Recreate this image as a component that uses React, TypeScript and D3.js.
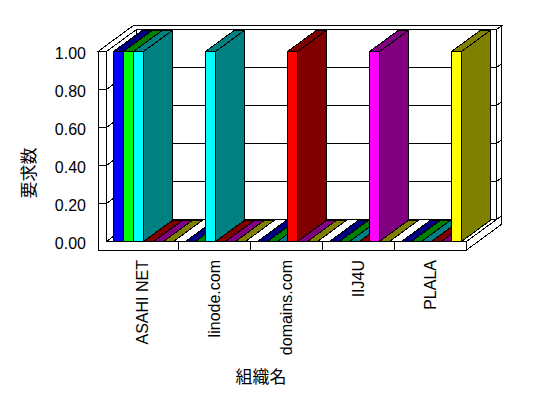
import React from "react";
import * as d3 from "d3";

const categories = ["ASAHI NET", "linode.com", "domains.com", "IIJ4U", "PLALA"];
const series1 = [1, 0, 0, 0, 0];
const series2 = [1, 0, 0, 0, 0];
const series3 = [1, 1, 0, 0, 0];
const series4 = [0, 0, 1, 0, 0];
const series5 = [0, 0, 0, 1, 0];
const series6 = [0, 0, 0, 0, 1];
const seriesKeys = ["s1", "s2", "s3", "s4", "s5", "s6"];
const seriesValues = [series1, series2, series3, series4, series5, series6];
const frontColors = ["#0000FF", "#00FF00", "#00FFFF", "#FF0000", "#FF00FF", "#FFFF00"];
const darkColors = ["#000080", "#008000", "#008080", "#800000", "#800080", "#808000"];
const yTicks = [0, 0.2, 0.4, 0.6, 0.8, 1.0];
const yTitle = "要求数";
const xTitle = "組織名";

const W = 548;
const H = 398;
const X0 = 106.5;
const X1 = 466.5;
const DX = 30;
const DY = -22;
const T = 0.183; // back wall thickness (depth fraction)
const WALL = 8.5; // left wall thickness px
const FLOOR = 8.5; // floor thickness px
const BAR_DEPTH = 0.95;

const pts = (a: number[][]) => a.map((p) => `${p[0]},${p[1]}`).join(" ");

export default function App() {
  const x = d3.scaleBand<string>().domain(categories).range([X0, X1]).padding(0);
  const inner = d3.scaleBand<string>().domain(seriesKeys).range([7, 67]).padding(0);
  const y = d3.scaleLinear().domain([0, 1]).range([241.5, 51.5]);
  const y0 = y(0);
  const y1 = y(1);
  const stroke = "#000";

  // back wall
  const bwL = X0 + DX;
  const bwR = X1 + DX;
  const topOuterY = y1 + DY * (1 + T);
  const leftOuterX = X0 - WALL;

  const bars: JSX.Element[] = [];
  categories.forEach((c, ci) => {
    seriesKeys.forEach((k, si) => {
      const v = seriesValues[si][ci];
      const bx0 = (x(c) as number) + (inner(k) as number);
      const bx1 = bx0 + inner.bandwidth();
      const yv = y(v);
      const bdx = DX * BAR_DEPTH;
      const bdy = DY * BAR_DEPTH;
      const front = [[bx0, y0], [bx1, y0], [bx1, yv], [bx0, yv]];
      const top = [[bx0, yv], [bx1, yv], [bx1 + bdx, yv + bdy], [bx0 + bdx, yv + bdy]];
      const side = [[bx1, y0], [bx1, yv], [bx1 + bdx, yv + bdy], [bx1 + bdx, y0 + bdy]];
      bars.push(
        <g key={`${ci}-${si}`}>
          {v > 0 && <polygon points={pts(side)} fill={darkColors[si]} stroke={stroke} />}
          <polygon points={pts(top)} fill={darkColors[si]} stroke={stroke} />
          {v > 0 && <polygon points={pts(front)} fill={frontColors[si]} stroke={stroke} />}
        </g>
      );
    });
  });

  const font = "'Liberation Sans', Arial, sans-serif";
  const cjk = "'Noto Sans CJK JP', sans-serif";

  return (
    <svg
      width={W}
      height={H}
      style={{ position: "absolute", left: 0, top: 0, background: "#fff" }}
      shapeRendering="crispEdges"
    >
      <rect x={0} y={0} width={W} height={H} fill="#fff" />
      {/* back wall front face */}
      <rect x={bwL} y={y1 + DY} width={bwR - bwL} height={y0 - y1} fill="#fff" stroke={stroke} />
      {yTicks.filter((t) => t > 0 && t < 1).map((t) => (
        <line key={`bg${t}`} x1={bwL} x2={bwR} y1={y(t) + DY} y2={y(t) + DY} stroke={stroke} />
      ))}
      {/* back wall right face */}
      <polygon
        points={pts([
          [bwR, y1 + DY],
          [X1 + DX * (1 + T), topOuterY],
          [X1 + DX * (1 + T), y0 + DY * (1 + T)],
          [bwR, y0 + DY],
        ])}
        fill="#fff"
        stroke={stroke}
      />
      {yTicks.filter((t) => t > 0 && t < 1).map((t) => (
        <line
          key={`br${t}`}
          x1={bwR}
          y1={y(t) + DY}
          x2={X1 + DX * (1 + T)}
          y2={y(t) + DY * (1 + T)}
          stroke={stroke}
        />
      ))}
      {/* top faces of walls */}
      <polygon
        points={pts([
          [leftOuterX, y1],
          [leftOuterX + DX * (1 + T), topOuterY],
          [X1 + DX * (1 + T), topOuterY],
          [bwR, y1 + DY],
          [bwL, y1 + DY],
          [X0, y1],
        ])}
        fill="#fff"
        stroke={stroke}
      />
      {/* left wall inner face */}
      <polygon
        points={pts([
          [X0, y0],
          [X0, y1],
          [bwL, y1 + DY],
          [bwL, y0 + DY],
        ])}
        fill="#fff"
        stroke={stroke}
      />
      {yTicks.filter((t) => t > 0 && t < 1).map((t) => (
        <line key={`lg${t}`} x1={X0} y1={y(t)} x2={bwL} y2={y(t) + DY} stroke={stroke} />
      ))}
      {/* floor top */}
      <polygon
        points={pts([
          [X0, y0],
          [X1, y0],
          [bwR, y0 + DY],
          [bwL, y0 + DY],
        ])}
        fill="#fff"
        stroke={stroke}
      />
      {/* floor right face */}
      <polygon
        points={pts([
          [X1, y0],
          [X1, y0 + FLOOR],
          [X1 + DX * (1 + T), y0 + FLOOR + DY * (1 + T)],
          [X1 + DX * (1 + T), y0 + DY * (1 + T)],
        ])}
        fill="#fff"
        stroke={stroke}
      />
      {/* left wall front + floor front */}
      <polygon
        points={pts([
          [leftOuterX, y1],
          [X0, y1],
          [X0, y0],
          [X1, y0],
          [X1, y0 + FLOOR],
          [leftOuterX, y0 + FLOOR],
        ])}
        fill="#fff"
        stroke={stroke}
      />
      {yTicks.filter((t) => t > 0 && t < 1).map((t) => (
        <line key={`lt${t}`} x1={leftOuterX} x2={X0} y1={y(t)} y2={y(t)} stroke={stroke} />
      ))}
      {categories.slice(1).map((c) => (
        <line key={`ct${c}`} x1={x(c)} x2={x(c)} y1={y0} y2={y0 + FLOOR} stroke={stroke} />
      ))}
      {bars}
      {/* y tick labels */}
      {yTicks.map((t) => (
        <text
          key={`yl${t}`}
          x={86}
          y={y(t) + 1.5}
          textAnchor="end"
          dominantBaseline="central"
          fontFamily={font}
          fontSize={16}
          fill="#000"
        >
          {t.toFixed(2)}
        </text>
      ))}
      {/* category labels */}
      {categories.map((c) => (
        <text
          key={`cl${c}`}
          transform={`translate(${(x(c) as number) + x.bandwidth() / 2},260) rotate(-90)`}
          textAnchor="end"
          dominantBaseline="central"
          fontFamily={font}
          fontSize={16}
          fill="#000"
        >
          {c}
        </text>
      ))}
      <text
        transform="translate(27,173) rotate(-90)"
        textAnchor="middle"
        dominantBaseline="central"
        fontFamily={cjk}
        fontSize={17}
        fill="#000"
      >
        {yTitle}
      </text>
      <text
        x={261}
        y={375}
        textAnchor="middle"
        dominantBaseline="central"
        fontFamily={cjk}
        fontSize={17}
        fill="#000"
      >
        {xTitle}
      </text>
    </svg>
  );
}
